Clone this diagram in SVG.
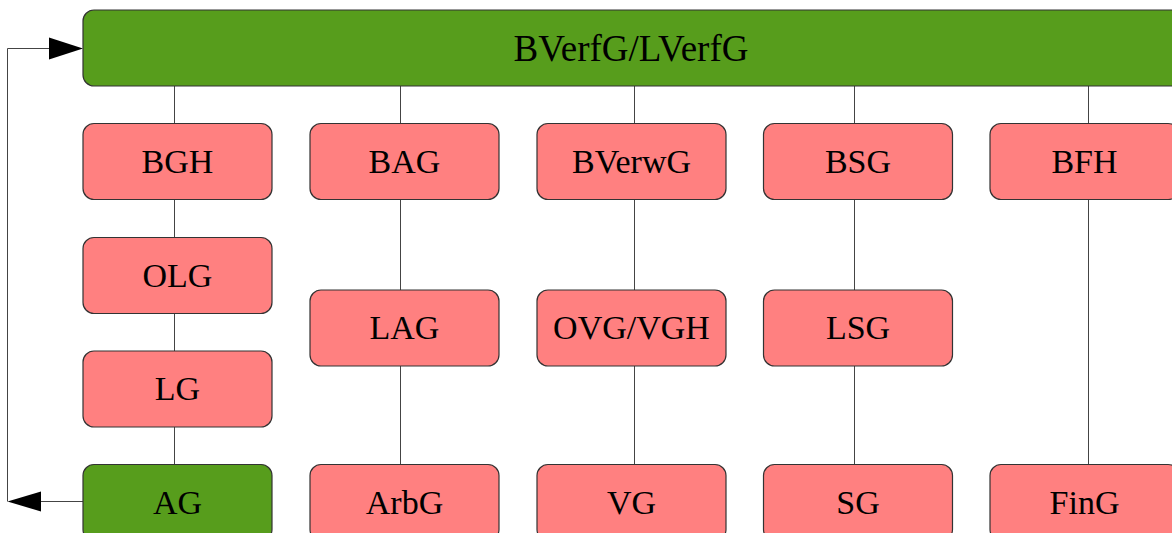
<svg xmlns="http://www.w3.org/2000/svg" width="1172" height="533" viewBox="0 0 1172 533">
<style>
.box{stroke:#333;stroke-width:1.2}
.pink{fill:#ff8080}
.green{fill:#579d1c}
.t{font-family:"Liberation Serif","Times New Roman",serif;font-size:34px;fill:#000;text-anchor:middle}
.big{font-size:37px}
.c{stroke:#444;stroke-width:1;fill:none}
</style>
<rect width="1172" height="533" fill="#fff"/>
<g id="connectors">
<line class="c" x1="174.5" y1="86" x2="174.5" y2="464"/>
<line class="c" x1="400.5" y1="86" x2="400.5" y2="464"/>
<line class="c" x1="634.5" y1="86" x2="634.5" y2="464"/>
<line class="c" x1="854.5" y1="86" x2="854.5" y2="464"/>
<line class="c" x1="1088.5" y1="86" x2="1088.5" y2="464"/>
<polyline class="c" points="83,501.5 40,501.5"/>
<polygon points="7.5,501.5 41,491.5 41,511.5" fill="#000"/>
<polyline class="c" points="7.5,501.5 7.5,48.5 50,48.5"/>
<polygon points="83,48.5 49,37.5 49,59.5" fill="#000"/>
</g>
<g id="BVerfG"><rect class="box green" x="83" y="10" width="1100" height="76" rx="11" ry="11"/><text class="t big" x="631" y="61">BVerfG/LVerfG</text></g>
<g id="BGH"><rect class="box pink" x="83" y="123.5" width="189" height="76" rx="11"/><text class="t" x="177.5" y="172.5">BGH</text></g>
<g id="OLG"><rect class="box pink" x="83" y="237.5" width="189" height="76" rx="11"/><text class="t" x="177.5" y="286.5">OLG</text></g>
<g id="LG"><rect class="box pink" x="83" y="351" width="189" height="76" rx="11"/><text class="t" x="177.5" y="400">LG</text></g>
<g id="AG"><rect class="box green" x="83" y="464.5" width="189" height="76" rx="11"/><text class="t" x="177.5" y="513.5">AG</text></g>
<g id="BAG"><rect class="box pink" x="310" y="123.5" width="189" height="76" rx="11"/><text class="t" x="404.5" y="172.5">BAG</text></g>
<g id="LAG"><rect class="box pink" x="310" y="290" width="189" height="76" rx="11"/><text class="t" x="404.5" y="339">LAG</text></g>
<g id="ArbG"><rect class="box pink" x="310" y="464.5" width="189" height="76" rx="11"/><text class="t" x="404.5" y="513.5">ArbG</text></g>
<g id="BVerwG"><rect class="box pink" x="537" y="123.5" width="189" height="76" rx="11"/><text class="t" x="631.5" y="172.5">BVerwG</text></g>
<g id="OVG"><rect class="box pink" x="537" y="290" width="189" height="76" rx="11"/><text class="t" x="631.5" y="339">OVG/VGH</text></g>
<g id="VG"><rect class="box pink" x="537" y="464.5" width="189" height="76" rx="11"/><text class="t" x="631.5" y="513.5">VG</text></g>
<g id="BSG"><rect class="box pink" x="763.5" y="123.5" width="189" height="76" rx="11"/><text class="t" x="858" y="172.5">BSG</text></g>
<g id="LSG"><rect class="box pink" x="763.5" y="290" width="189" height="76" rx="11"/><text class="t" x="858" y="339">LSG</text></g>
<g id="SG"><rect class="box pink" x="763.5" y="464.5" width="189" height="76" rx="11"/><text class="t" x="858" y="513.5">SG</text></g>
<g id="BFH"><rect class="box pink" x="990" y="123.5" width="189" height="76" rx="11"/><text class="t" x="1084.5" y="172.5">BFH</text></g>
<g id="FinG"><rect class="box pink" x="990" y="464.5" width="189" height="76" rx="11"/><text class="t" x="1084.5" y="513.5">FinG</text></g>
</svg>
